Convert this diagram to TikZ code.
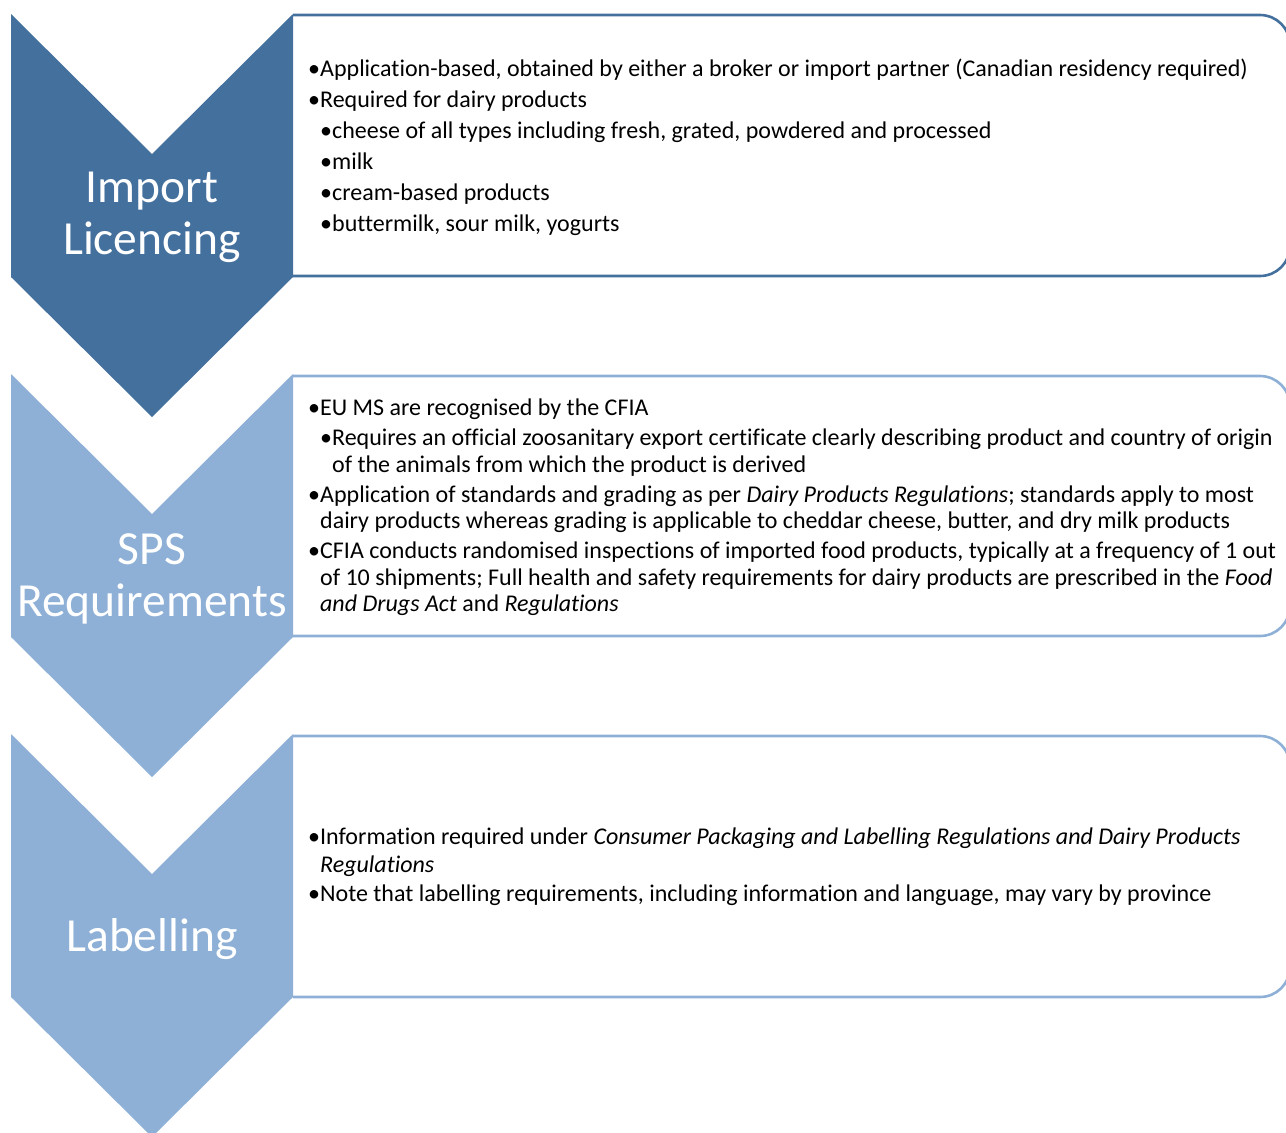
\documentclass[tikz,border=0pt]{standalone}
\usepackage{fontspec}
\setmainfont{Carlito}[Ligatures=NoCommon]
\usetikzlibrary{positioning}
\definecolor{stagedark}{HTML}{44709E}
\definecolor{stagelight}{HTML}{8EB0D6}
\newlength\bulwd
% one bullet line, optional indent for the second level
\newcommand{\bitem}[2][0pt]{\par\settowidth{\bulwd}{\textbullet}\leftskip=#1\hangindent=\bulwd\hangafter=1\noindent\textbullet#2}

\begin{document}
\begin{tikzpicture}[x=1pt, y=-1pt,
  stagebox/.style={line width=2.6pt, rounded corners=30pt},
  stagelabel/.style={align=center, text=white, font=\fontsize{47.5}{52}\selectfont},
  stagetext/.style={anchor=west, align=flush left, text width=976pt, inner sep=0pt, font=\fontsize{24}{26.5}\selectfont}]
  \useasboundingbox (0,0) rectangle (1286,1133);
  % text boxes behind the chevrons
  \draw[stagebox, stagedark] (293,15) -- (1290,15) -- (1290,276) -- (293,276);
  \draw[stagebox, stagelight] (293,376) -- (1290,376) -- (1290,636) -- (293,636);
  \draw[stagebox, stagelight] (293,736) -- (1290,736) -- (1290,997) -- (293,997);
  % chevrons
  \foreach \off/\col in {0/stagedark, 360/stagelight, 720/stagelight}
    \fill[\col] (11,14+\off) -- (152,154+\off) -- (293,14+\off) -- (293,277+\off)
      -- (152,417+\off) -- (11,277+\off) -- cycle;
  \node[stagelabel] (import) at (152,217) {Import\\Licencing};
  \node[stagelabel] (sps) at (152,579) {SPS\\Requirements};
  \node[stagelabel] (label) at (152,939) {Labelling};
  \node[stagetext] (importtext) at (308,140.5) {\setlength\parskip{4.5pt}%
    \bitem{Application-based, obtained by either a broker or import partner (Canadian residency required)}
    \bitem{Required for dairy products}
    \bitem[12pt]{cheese of all types including fresh, grated, powdered and processed}
    \bitem[12pt]{milk}
    \bitem[12pt]{cream-based products}
    \bitem[12pt]{buttermilk, sour milk, yogurts}\par};
  \node[stagetext] (spstext) at (308,501) {\setlength\parskip{3.5pt}%
    \bitem{EU MS are recognised by the CFIA}
    \bitem[12pt]{Requires an official zoosanitary export certificate clearly describing product and country of origin of the animals from which the product is derived}
    \bitem{Application of standards and grading as per \textit{Dairy Products Regulations}; standards apply to most dairy products whereas grading is applicable to cheddar cheese, butter, and dry milk products}
    \bitem{CFIA conducts randomised inspections of imported food products, typically at a frequency of 1 out of 10 shipments; Full health and safety requirements for dairy products are prescribed in the \textit{Food and Drugs Act} and \textit{Regulations}}\par};
  \node[stagetext] (labeltext) at (308,861) {\fontsize{24}{28}\selectfont\setlength\parskip{1pt}%
    \bitem{Information required under \textit{Consumer Packaging and Labelling Regulations and Dairy Products Regulations}}
    \bitem{Note that labelling requirements, including information and language, may vary by province}\par};
\end{tikzpicture}
\end{document}
